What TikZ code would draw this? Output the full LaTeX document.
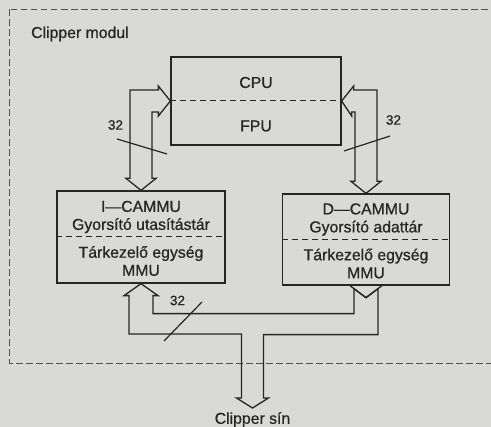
\documentclass[tikz,border=0pt]{standalone}
\usepackage{fontspec}
\setmainfont{Liberation Sans}[RawFeature={embolden=0.7}]
\usetikzlibrary{calc,positioning}
\definecolor{paper}{HTML}{D9D9D5}
\definecolor{ink}{HTML}{262626}
\definecolor{frameink}{HTML}{505050}

\begin{document}
\begin{tikzpicture}[
  x=1pt,y=-1pt,
  box/.style={draw=ink,line width=1.3pt,inner sep=0pt},
  divider/.style={draw=ink,line width=1pt,dash pattern=on 6pt off 4pt},
  bus/.style={draw=ink,line width=1.3pt,line join=miter},
  tick/.style={draw=ink,line width=1.2pt},
  frame/.style={draw=frameink,line width=0.9pt,dash pattern=on 6.5pt off 3.5pt},
  lbl/.style={text=ink,align=center,inner sep=0pt,font=\fontsize{15.8}{18}\selectfont},
  buswidth/.style={text=ink,inner sep=0pt,font=\fontsize{13.5}{15}\selectfont}
]
  \useasboundingbox (0,0) rectangle (491,427);
  \fill[paper] (0,0) rectangle (491,427);
  \draw[frame] (9.5,9.5) rectangle (505,363);
  \node[lbl,anchor=base west] (modul) at (31,38) {Clipper modul};

  % CPU / FPU
  \node[box,minimum width=170pt,minimum height=88pt] (cpu) at (256,101) {};
  \draw[divider] (cpu.west) -- (cpu.east);
  \node[lbl] (cputxt) at ($(cpu.center)+(0,-18.5)$) {CPU};
  \node[lbl] (fputxt) at ($(cpu.center)+(0,25)$) {FPU};

  % cache + MMU egysegek
  \node[box,minimum width=168pt,minimum height=92pt] (icammu) at (141,237) {};
  \draw[divider] (icammu.west) -- (icammu.east);
  \node[lbl] (icache) at ($(icammu.center)+(0,-20)$) {I—CAMMU\\Gyorsító utasítástár};
  \node[lbl] (immu) at ($(icammu.center)+(0,24)$) {Tárkezelő egység\\MMU};

  \node[box,minimum width=167pt,minimum height=91pt] (dcammu) at (366,239.5) {};
  \draw[divider] (dcammu.west) -- (dcammu.east);
  \node[lbl] (dcache) at ($(dcammu.center)+(0,-20)$) {D—CAMMU\\Gyorsító adattár};
  \node[lbl] (dmmu) at ($(dcammu.center)+(0,24)$) {Tárkezelő egység\\MMU};

  \coordinate (sinbus) at (252.5,408);
  \node[lbl,below=4pt of sinbus] (sin) {Clipper sín};

  % buszok
  \draw[bus] (cpu.west) -- ++(-12,-15) -- ++(0,4) -| ($(icammu.north)+(-11,-12)$)
    -- ++(-4,0) -- (icammu.north) -- ++(15,-12) -- ++(-4,0)
    |- ($(cpu.west)+(-12,11)$) -- ++(0,4) -- cycle;
  \draw[bus] (cpu.east) -- ++(12,-15) -- ++(0,4) -| ($(dcammu.north)+(11,-12)$)
    -- ++(4,0) -- (dcammu.north) -- ++(-15,-12) -- ++(4,0)
    |- ($(cpu.east)+(10,11)$) -- ++(0,4) -- cycle;
  \draw[bus] (icammu.south) -- ++(-17,12) -- ++(5,0) |- ($(sinbus)+(-11,-74)$)
    -- ++(0,64) -- ++(-5,0) -- (sinbus) -- ++(16,-10) -- ++(-5,0)
    |- ($(dcammu.south)+(12,49)$) -- ($(dcammu.south)+(12,3)$)
    -- ($(dcammu.south)+(0,12)$) -- ($(dcammu.south)+(-12,3)$)
    |- ($(icammu.south)+(12,30)$) -- ++(0,-18) -- ++(5,0) -- cycle;
  \draw[bus] ($(dcammu.south)+(-16,0)$) -- ($(dcammu.south)+(0,12)$) -- ($(dcammu.south)+(16,0)$);

  % 32 bites szelesseg
  \node[buswidth] (w32a) at (115.5,125) {32};
  \node[buswidth] (w32b) at (393.5,120) {32};
  \node[buswidth] (w32c) at (177.5,300.5) {32};
  \draw[tick] ($(w32a)+(1.5,14)$) -- ++(50,15);
  \draw[tick] ($(w32b)+(-49.5,31)$) -- ++(46,-15);
  \draw[tick] ($(w32c)+(-13.5,40.5)$) -- ++(38,-39);
\end{tikzpicture}
\end{document}
